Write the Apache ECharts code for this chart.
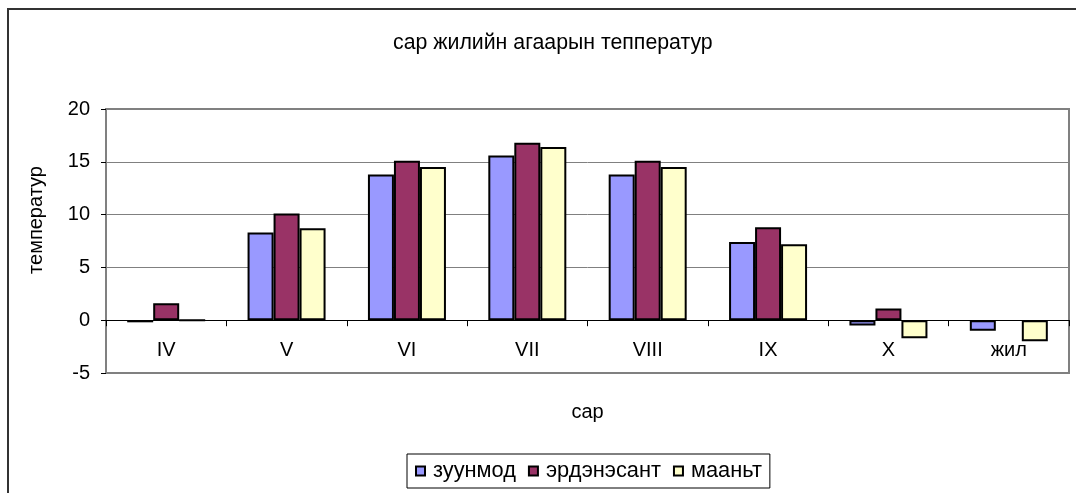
<!DOCTYPE html>
<html>
<head>
<meta charset="utf-8">
<script src="https://cdn.jsdelivr.net/npm/echarts@6/dist/echarts.min.js"></script>
<style>
  html, body { margin: 0; padding: 0; background: #fff; overflow: hidden; }
  #chart { width: 1076px; height: 493px; position: relative; }
  /* chart area frame, cut off on the right and bottom like the original */
  .frame {
    position: absolute; left: 7px; top: 8px; width: 1100px; height: 600px;
    border: 2px solid #333; box-sizing: border-box; pointer-events: none;
  }
</style>
</head>
<body>
<div id="chart"></div>
<div class="frame"></div>
<script>
  // months (and the yearly mean)
  const categories = ['IV', 'V', 'VI', 'VII', 'VIII', 'IX', 'X', 'жил'];
  const seriesNames = ['зуунмод', 'эрдэнэсант', 'мааньт'];
  // values
  const zuunmod    = [-0.2, 8.3, 13.8, 15.6, 13.8, 7.4, -0.5, -1.0];
  const erdenesant = [1.6, 10.1, 15.1, 16.8, 15.1, 8.8, 1.1, null];
  const maant      = [0.0, 8.7, 14.5, 16.4, 14.5, 7.2, -1.7, -2.0];
  const colors = ['#9999FF', '#993366', '#FFFFCC'];
  const yTicks = { min: -5, max: 20, interval: 5 };

  const font = '"Liberation Sans", Arial, sans-serif';
  const chart = echarts.init(document.getElementById('chart'));

  const seriesData = [zuunmod, erdenesant, maant];

  const option = {
    backgroundColor: '#fff',
    animation: false,
    title: {
      text: 'сар жилийн агаарын тепператур',
      left: 388,
      top: 28,
      textStyle: { fontFamily: font, fontSize: 21.3, fontWeight: 'normal', color: '#000' }
    },
    legend: {
      data: seriesNames,
      left: 407,
      top: 454,
      orient: 'horizontal',
      icon: 'rect',
      itemWidth: 9,
      itemHeight: 9,
      itemGap: 12,
      padding: [6, 8, 6, 8],
      borderColor: '#000',
      borderWidth: 1,
      itemStyle: { borderColor: '#000', borderWidth: 2 },
      textStyle: { fontFamily: font, fontSize: 21.8, color: '#000', padding: [0, 0, 0, 3] }
    },
    grid: {
      left: 106,
      right: 7,
      top: 109,
      bottom: 120,
      show: true,
      borderColor: '#808080',
      borderWidth: 2,
      containLabel: false
    },
    xAxis: {
      type: 'category',
      data: categories,
      name: 'сар',
      nameLocation: 'middle',
      nameGap: 29,
      nameTextStyle: { fontFamily: font, fontSize: 20, color: '#000' },
      axisLine: { onZero: true, lineStyle: { color: '#000', width: 1 } },
      axisTick: { show: true, length: 6, lineStyle: { color: '#000' } },
      axisLabel: { margin: -33, fontFamily: font, fontSize: 20, color: '#000' },
      splitLine: { show: false }
    },
    yAxis: {
      type: 'value',
      min: yTicks.min,
      max: yTicks.max,
      interval: yTicks.interval,
      name: 'температур',
      nameLocation: 'middle',
      nameRotate: 90,
      nameGap: 60,
      nameTextStyle: { fontFamily: font, fontSize: 20, color: '#000', padding: [0, 0, 0, 42] },
      axisLine: { show: true, lineStyle: { color: '#808080', width: 2 } },
      axisTick: { show: true, length: 5, lineStyle: { color: '#000' } },
      axisLabel: { margin: 16, fontFamily: font, fontSize: 20, color: '#000' },
      splitLine: { show: true, lineStyle: { color: '#808080', width: 1 } }
    },
    series: seriesNames.map((name, i) => ({
      name: name,
      type: 'bar',
      data: seriesData[i],
      barWidth: 26,
      barGap: '0%',
      itemStyle: { color: colors[i], borderColor: '#000', borderWidth: 2 }
    }))
  };

  chart.setOption(option);
</script>
</body>
</html>
